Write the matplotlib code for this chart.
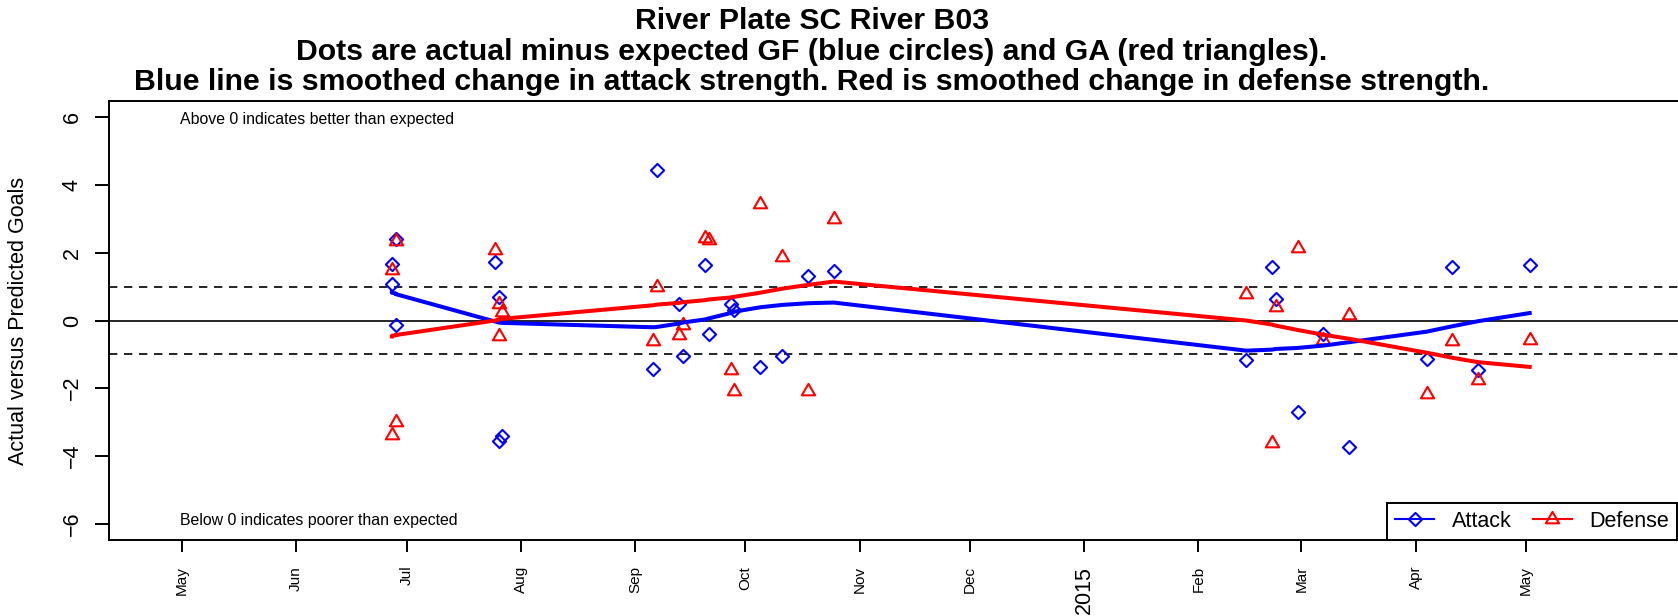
import matplotlib
matplotlib.use('Agg')
import matplotlib.pyplot as plt
import matplotlib.dates as mdates
from matplotlib.path import Path
from matplotlib.lines import Line2D
import pandas as pd
from datetime import datetime

plt.rcParams['font.family'] = ['Liberation Sans', 'DejaVu Sans']

# ---------------- data ----------------
match_dates = [
    "2014-06-27", "2014-06-27", "2014-06-28", "2014-06-28",
    "2014-07-25", "2014-07-26", "2014-07-26", "2014-07-27",
    "2014-09-06", "2014-09-07", "2014-09-13", "2014-09-14",
    "2014-09-20", "2014-09-21", "2014-09-27", "2014-09-28",
    "2014-10-05", "2014-10-11", "2014-10-18", "2014-10-25",
    "2015-02-14", "2015-02-21", "2015-02-22", "2015-02-28",
    "2015-03-07", "2015-03-14", "2015-04-04", "2015-04-11",
    "2015-04-18", "2015-05-02",
]
attack_resid = [1.08, 1.67, -0.13, 2.41,
                1.72, 0.69, -3.57, -3.42,
                -1.43, 4.45, 0.49, -1.06,
                1.64, -0.41, 0.49, 0.30,
                -1.36, -1.06, 1.30, 1.46,
                -1.16, 1.58, 0.64, -2.71,
                -0.41, -3.73, -1.14, 1.58,
                -1.46, 1.65]
defense_resid = [-3.38, 1.50, -3.00, 2.36,
                 2.07, 0.49, -0.47, 0.25,
                 -0.61, 0.98, -0.44, -0.12,
                 2.43, 2.39, -1.46, -2.09,
                 3.45, 1.87, -2.09, 3.00,
                 0.79, -3.61, 0.41, 2.15,
                 -0.57, 0.15, -2.18, -0.60,
                 -1.77, -0.57]
attack_smooth = [0.84, 0.82, 0.80, 0.78,
                 -0.03, -0.05, -0.06, -0.07,
                 -0.20, -0.19, -0.09, -0.06,
                 0.03, 0.06, 0.22, 0.26,
                 0.39, 0.46, 0.51, 0.53,
                 -0.89, -0.86, -0.84, -0.81,
                 -0.74, -0.64, -0.33, -0.17,
                 -0.02, 0.22]
defense_smooth = [-0.47, -0.45, -0.44, -0.43,
                  0.00, 0.02, 0.04, 0.05,
                  0.45, 0.47, 0.52, 0.54,
                  0.60, 0.62, 0.68, 0.70,
                  0.82, 0.94, 1.05, 1.15,
                  0.00, -0.12, -0.15, -0.28,
                  -0.42, -0.54, -0.95, -1.10,
                  -1.23, -1.37]

month_ticks = pd.date_range("2014-05-01", "2015-05-01", freq="MS")
month_labels = ["May", "Jun", "Jul", "Aug", "Sep", "Oct", "Nov", "Dec",
                "2015", "Feb", "Mar", "Apr", "May"]
y_ticks = [-6, -4, -2, 0, 2, 4, 6]

title_lines = [
    "River Plate SC River B03",
    "Dots are actual minus expected GF (blue circles) and GA (red triangles).",
    "Blue line is smoothed change in attack strength. Red is smoothed change in defense strength.",
]

# ---------------- layout ----------------
W, H = 1678, 616
fig = plt.figure(figsize=(W / 100, H / 100), dpi=100)
ax_left_px, ax_right_px, ax_top_px, ax_bot_px = 109, 1812, 101, 540
ax = fig.add_axes([ax_left_px / W, (H - ax_bot_px) / H,
                   (ax_right_px - ax_left_px) / W, (ax_bot_px - ax_top_px) / H])

base = mdates.date2num(datetime(2014, 5, 1))
tick0_px, tick1_px = 182, 1526
px_per_day = (tick1_px - tick0_px) / 365.0
ax.set_xlim(base - (tick0_px - ax_left_px) / px_per_day,
            base + (ax_right_px - tick0_px) / px_per_day)
ax.set_ylim(-6.48, 6.48)

dates = pd.to_datetime(match_dates)

diamond = Path([(0, 1), (1, 0), (0, -1), (-1, 0), (0, 1)],
               [Path.MOVETO, Path.LINETO, Path.LINETO, Path.LINETO, Path.CLOSEPOLY])
triangle = Path([(0, 1.555), (1.347, -0.778), (-1.347, -0.778), (0, 1.555)],
                [Path.MOVETO, Path.LINETO, Path.LINETO, Path.CLOSEPOLY])

# reference lines
ax.axhline(0, color="black", lw=1.2, zorder=1)
for yv in (1, -1):
    ax.axhline(yv, color="black", lw=1.2, dashes=(5, 4), zorder=1)

ax.plot(dates, attack_resid, linestyle="none", marker=diamond, ms=9.5,
        mfc="none", mec="#0000FF", mew=1.5, zorder=3)
ax.plot(dates, defense_resid, linestyle="none", marker=triangle, ms=11,
        mfc="none", mec="#FF0000", mew=1.5, zorder=3)
ax.plot(dates, attack_smooth, color="#0000FF", lw=2.9, zorder=4)
ax.plot(dates, defense_smooth, color="#FF0000", lw=2.9, zorder=4)

# axes styling
for side in ("top", "left", "bottom"):
    ax.spines[side].set_linewidth(1.4)
ax.spines["right"].set_visible(False)

ax.set_xticks(month_ticks)
ax.set_xticklabels(month_labels, rotation=90)
ax.tick_params(axis="x", length=8.6, width=1.4, pad=10)
for lab in ax.get_xticklabels():
    lab.set_fontsize(15.5 if lab.get_text() == "2015" else 11)

ax.set_yticks(y_ticks)
ax.set_yticklabels([f"{v}".replace("-", "\u2212") for v in y_ticks])
ax.tick_params(axis="y", length=10, width=1.4, pad=16.5, labelsize=15.5)
for lab in ax.get_yticklabels():
    lab.set_rotation(90)
    lab.set_ha("center")
    lab.set_va("center")

fig.text(19 / W, (H - 321) / H, "Actual versus Predicted Goals", rotation=90,
         ha="center", va="center", fontsize=15.5)

ax.text(base - 0.5, 5.93, "Above 0 indicates better than expected",
        ha="left", va="center", fontsize=11.4)
ax.text(base - 0.5, -5.9, "Below 0 indicates poorer than expected",
        ha="left", va="center", fontsize=11.4)

title_y_px = [21, 52.5, 82]
for txt, ypx in zip(title_lines, title_y_px):
    fig.text(812 / W, 1 - ypx / H, txt, ha="center", va="center",
             fontsize=21.8, fontweight="bold")

handles = [
    Line2D([], [], color="#0000FF", lw=1.5, marker=diamond, ms=9.5, mfc="none", mew=1.5),
    Line2D([], [], color="#FF0000", lw=1.5, marker=triangle, ms=11, mfc="none", mew=1.5),
]
leg = fig.legend(handles, ["Attack", "Defense"], loc="lower left",
                 bbox_to_anchor=(1387 / W, (H - ax_bot_px) / H), ncol=2,
                 fontsize=15.5, frameon=True, fancybox=False, framealpha=1,
                 edgecolor="black", borderpad=0.38, borderaxespad=0,
                 handlelength=1.82, handletextpad=0.8, columnspacing=1.0,
                 numpoints=1)
leg.get_frame().set_linewidth(1.4)

fig.savefig("out.png", dpi=100)
